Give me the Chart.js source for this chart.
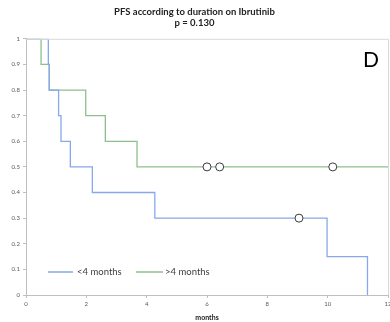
<!DOCTYPE html>
<html>
<head>
<meta charset="utf-8">
<script src="https://cdn.jsdelivr.net/npm/chart.js@4/dist/chart.umd.min.js"></script>
<style>
  html, body { margin: 0; padding: 0; background: #fff; }
  #wrap { width: 390px; height: 322px; }
</style>
</head>
<body>
<div id="wrap"><canvas id="kmChart" width="390" height="322"></canvas></div>
<script>
// survival curves (time in months, survival fraction)
const shortTimes = [0, 0.74, 0.77, 1.08, 1.16, 1.47, 2.2, 4.27, 9.98, 11.32];
const shortSurv  = [1, 0.9, 0.8, 0.7, 0.6, 0.5, 0.4, 0.3, 0.15, 0];
const longTimes  = [0, 0.5, 0.77, 1.98, 2.63, 3.68, 12];
const longSurv   = [1, 0.9, 0.8, 0.7, 0.6, 0.5, 0.5];

// censored patients
const shortCensTimes = [9.05];
const shortCensSurv  = [0.3];
const longCensTimes  = [6.0, 6.42, 10.17];
const longCensSurv   = [0.5, 0.5, 0.5];

const seriesNames = ['<4 months', '>4 months'];
const xTicks = [0, 2, 4, 6, 8, 10, 12];

const blue = '#86a8ec';
const green = '#8dc08d';

const toPts = (xs, ys) => xs.map((x, i) => ({x: x, y: ys[i]}));

const fontFam = 'Lato, "Open Sans", sans-serif';

// the "12" label is cut by the page edge in the original, so let the plot run out to it
const stretchRight = {
    id: 'stretchRight',
    afterLayout(chart) {
        const xs = chart.scales.x;
        const right = 388;
        chart.chartArea.right = right;
        chart.chartArea.width = right - chart.chartArea.left;
        xs.right = right;
        xs.width = right - xs.left;
        xs.configure();
    }
};

// box around plot, panel letter, legend
const extras = {
    id: 'extras',
    afterDraw(chart) {
        const ctx = chart.ctx;
        const a = chart.chartArea;
        ctx.save();
        ctx.strokeStyle = '#d9d9d9';
        ctx.lineWidth = 1;
        ctx.beginPath();
        ctx.moveTo(a.left, a.top + 0.5);
        ctx.lineTo(a.right + 0.5, a.top + 0.5);
        ctx.lineTo(a.right + 0.5, a.bottom);
        ctx.stroke();

        ctx.fillStyle = '#000';
        ctx.font = '21px ' + fontFam;
        ctx.textAlign = 'center';
        ctx.textBaseline = 'middle';
        ctx.fillText('D', 371, 60);

        // legend
        ctx.font = '9.5px ' + fontFam;
        ctx.textAlign = 'left';
        ctx.fillStyle = '#404040';
        ctx.lineWidth = 1.5;
        ctx.strokeStyle = blue;
        ctx.beginPath(); ctx.moveTo(48, 272); ctx.lineTo(73, 272); ctx.stroke();
        ctx.fillText(seriesNames[0], 77, 272);
        ctx.strokeStyle = green;
        ctx.beginPath(); ctx.moveTo(136, 272); ctx.lineTo(163, 272); ctx.stroke();
        ctx.fillText(seriesNames[1], 165, 272);
        ctx.restore();
    }
};

new Chart(document.getElementById('kmChart'), {
    type: 'line',
    data: {
        datasets: [
            {label: seriesNames[0], data: toPts(shortTimes, shortSurv), borderColor: blue,
             borderWidth: 1.3, stepped: 'before', pointRadius: 0, fill: false, order: 2},
            {label: seriesNames[1], data: toPts(longTimes, longSurv), borderColor: green,
             borderWidth: 1.3, stepped: 'before', pointRadius: 0, fill: false, order: 3},
            {label: 'cens1', data: toPts(shortCensTimes, shortCensSurv), showLine: false,
             pointRadius: 4, pointBackgroundColor: '#fff', pointBorderColor: '#3a3a3a', pointBorderWidth: 1, order: 0},
            {label: 'cens2', data: toPts(longCensTimes, longCensSurv), showLine: false,
             pointRadius: 4, pointBackgroundColor: '#fff', pointBorderColor: '#3a3a3a', pointBorderWidth: 1, order: 1}
        ]
    },
    options: {
        responsive: false,
        animation: false,
        layout: {padding: {left: 0, right: 1, top: 0, bottom: 0}},
        plugins: {
            legend: {display: false},
            tooltip: {enabled: false},
            title: {
                display: true,
                text: ['PFS according to duration on Ibrutinib', 'p = 0.130'],
                color: '#222',
                font: {family: fontFam, size: 9.5, weight: 'bold', lineHeight: 1.2},
                padding: {top: 6, bottom: 10}
            }
        },
        scales: {
            x: {
                type: 'linear', min: 0, max: 12,
                afterBuildTicks: (s) => { s.ticks = xTicks.map(v => ({value: v})); },
                afterFit: (s) => { s.height = 27; },
                ticks: {color: '#595959', font: {family: fontFam, size: 6}, padding: 2, maxRotation: 0},
                grid: {display: true, drawOnChartArea: false, tickLength: 3, color: '#bfbfbf'},
                border: {color: '#bfbfbf'},
                title: {display: true, text: 'months', color: '#222',
                        font: {family: fontFam, size: 7, weight: 'bold'}, padding: {top: 4, bottom: 0}}
            },
            y: {
                min: 0, max: 1,
                afterFit: (s) => { s.width = 26; },
                ticks: {stepSize: 0.1, color: '#595959', font: {family: fontFam, size: 6}, padding: 3,
                        callback: (v) => Math.round(v * 10) / 10},
                grid: {display: true, drawOnChartArea: false, tickLength: 3, color: '#bfbfbf'},
                border: {color: '#bfbfbf'}
            }
        }
    },
    plugins: [stretchRight, extras]
});
</script>
</body>
</html>
